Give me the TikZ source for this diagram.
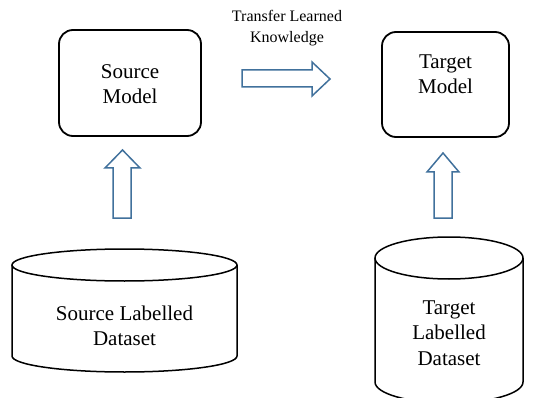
\documentclass[tikz,border=0pt]{standalone}
\usepackage{fontspec}
\setmainfont{Liberation Serif}
\begin{document}
\begin{tikzpicture}[x=1pt,y=-1pt,
  model/.style={draw=black,line width=1.8pt,rounded corners=14pt},
  modeltext/.style={align=center,font=\fontsize{21}{25.5}\selectfont},
  blockarrow/.style={draw=arrowblue,line width=1.5pt,fill=white,line join=miter},
  cyl/.style={draw=black,line width=1.5pt},
  cyltext/.style={align=center,font=\fontsize{21}{25.5}\selectfont}]
\definecolor{arrowblue}{HTML}{41719C}
\useasboundingbox (0,0) rectangle (543,398);
\clip (0,0) rectangle (543,398);
% model boxes
\node[model,minimum width=142pt,minimum height=106pt] (src) at (130,83) {};
\node[modeltext] (srct) at (130,84) {Source\\Model};
\node[model,minimum width=127pt,minimum height=105pt] (tgt) at (445.5,84.5) {};
\node[modeltext] (tgtt) at (445.5,74) {Target\\Model};
% transfer label
\node[align=center,font=\fontsize{16}{21}\selectfont] (lbl) at (287,28) {Transfer Learned\\Knowledge};
% transfer arrow
\draw[blockarrow] (242,70) -- (312,70) -- (312,62) -- (330,79) -- (312,96) -- (312,87) -- (242,87) -- cycle;
% up arrows
\draw[blockarrow] (113,218) -- (113,168) -- (105,168) -- (122.5,150) -- (140,168) -- (131,168) -- (131,218) -- cycle;
\draw[blockarrow] (434,218) -- (434,172) -- (427,172) -- (443,153) -- (459,172) -- (452,172) -- (452,218) -- cycle;
% source cylinder
\draw[cyl] (12,265) -- (12,356) arc[start angle=180,end angle=0,x radius=112.5,y radius=16] -- (237,265);
\draw[cyl] (124.5,265) ellipse[x radius=112.5,y radius=16];
\node[cyltext] (sds) at (124.5,326) {Source Labelled\\Dataset};
% target cylinder
\draw[cyl] (375,258) -- (375,382) arc[start angle=180,end angle=0,x radius=74,y radius=21] -- (523,258);
\draw[cyl] (449,258) ellipse[x radius=74,y radius=21];
\node[cyltext] (tds) at (449,333) {Target\\Labelled\\Dataset};
\end{tikzpicture}
\end{document}
